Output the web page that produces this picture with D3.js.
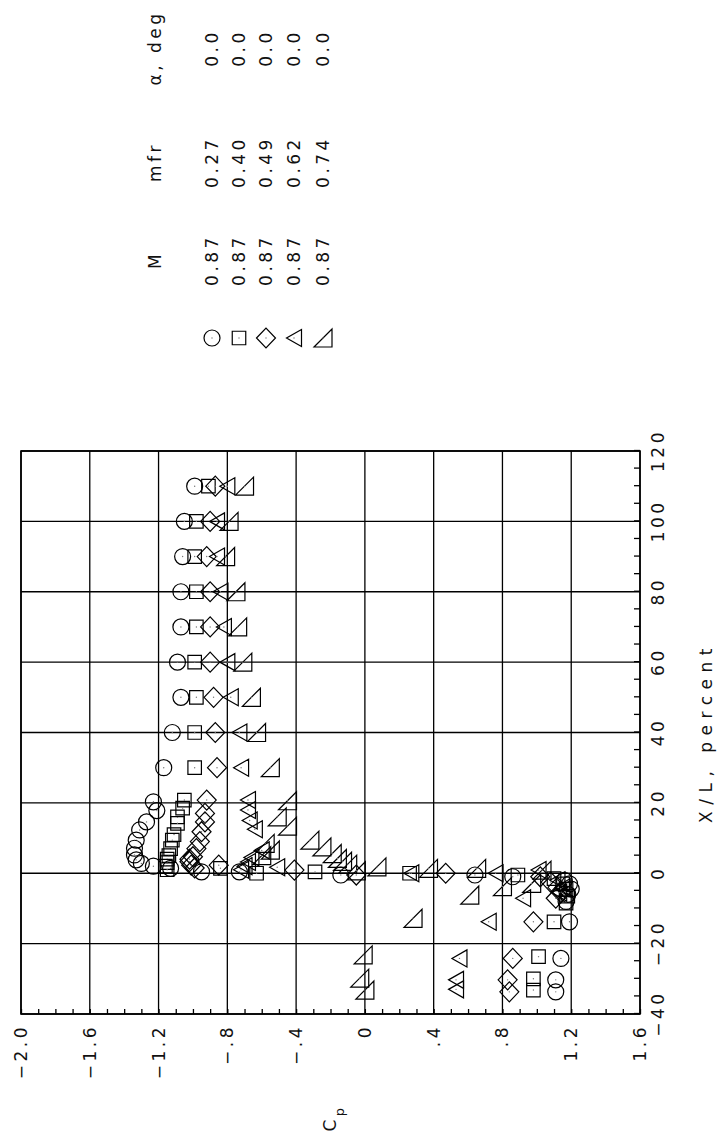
<!DOCTYPE html>
<html>
<head>
<meta charset="utf-8">
<script src="https://cdn.jsdelivr.net/npm/d3@7"></script>
<style>
  html, body { margin: 0; padding: 0; background: #fff; }
  svg { display: block; }
  text { font-family: "DejaVu Sans", "Liberation Sans", sans-serif; font-size: 17px; letter-spacing: 3.5px; fill: #111; }
  text.axis-title { letter-spacing: 6.5px; }
</style>
</head>
<body>
<svg id="chart" width="722" height="1148"></svg>
<script>
// ---- axis ticks and labels ----
const xlTicks = [-40, -20, 0, 20, 40, 60, 80, 100, 120];
const xlTickLabels = ["\u221240", "\u221220", "0", "20", "40", "60", "80", "100", "120"];
const cpTicks = [-2.0, -1.6, -1.2, -0.8, -0.4, 0, 0.4, 0.8, 1.2, 1.6];
const cpTickLabels = ["\u22122.0", "\u22121.6", "\u22121.2", "\u2212.8", "\u2212.4", "0", ".4", ".8", "1.2", "1.6"];

// ---- legend table ----
const legendHeaders = ["M", "mfr", "\u03b1, deg"];
const symbolKinds = ["circle", "square", "diamond", "triangle", "flag"];
const machValues = ["0.87", "0.87", "0.87", "0.87", "0.87"];
const mfrValues = ["0.27", "0.40", "0.49", "0.62", "0.74"];
const alphaValues = ["0.0", "0.0", "0.0", "0.0", "0.0"];

// ---- pressure data: X/L (percent) and Cp for each mass-flow ratio ----
const xlMfr027 = [110, 100, 90, 80, 70, 60, 50, 40, 30,
  20.3, 17.8, 14.6, 12.3, 9.4, 7.1, 5.2, 3.8, 2.8, 2.0, 1.4,
  0.4, 0.4, -0.5, -0.5, -1.0,
  -2.0, -3.0, -4.5, -6.0, -8.0,
  -13.8, -24.2, -30.3, -33.7];
const cpMfr027 = [-0.99, -1.05, -1.06, -1.07, -1.07, -1.09, -1.07, -1.12, -1.17,
  -1.23, -1.21, -1.27, -1.31, -1.33, -1.34, -1.34, -1.33, -1.30, -1.23, -1.13,
  -0.95, -0.73, -0.14, 0.64, 0.86,
  1.16, 1.19, 1.20, 1.18, 1.17,
  1.19, 1.14, 1.11, 1.11];

const xlMfr040 = [110, 100, 90, 80, 70, 60, 50, 40, 30,
  20.8, 18.5, 16.0, 14.2, 11.0, 9.4, 7.0, 5.0, 4.0, 3.0, 2.0, 1.0,
  1.4, 0.0, 0.4, 0.0, -0.5,
  -1.5, -3.0, -4.5, -6.5, -8.5,
  -13.8, -23.7, -30.0, -33.2];
const cpMfr040 = [-0.91, -0.98, -0.99, -0.98, -0.98, -0.99, -0.98, -0.99, -0.99,
  -1.05, -1.06, -1.09, -1.09, -1.11, -1.12, -1.13, -1.14, -1.15, -1.15, -1.16, -1.15,
  -0.84, -0.63, -0.29, 0.26, 0.89,
  1.10, 1.15, 1.17, 1.18, 1.17,
  1.10, 1.01, 0.98, 0.98];

const xlMfr049 = [110, 100, 90, 80, 70, 60, 50, 40, 30,
  20.8, 17.0, 14.6, 11.8, 9.0, 7.0, 4.7, 4.0, 3.3, 2.3, 1.5,
  2.3, 0.9, -0.5, 0.0, -1.0,
  -2.5, -4.0, -5.5, -7.1,
  -13.8, -24.2, -30.3, -33.7];
const cpMfr049 = [-0.87, -0.90, -0.92, -0.90, -0.90, -0.90, -0.88, -0.87, -0.86,
  -0.92, -0.93, -0.93, -0.95, -0.96, -0.98, -1.00, -1.02, -1.02, -1.01, -0.99,
  -0.85, -0.41, -0.05, 0.47, 1.02,
  1.08, 1.12, 1.14, 1.11,
  0.98, 0.86, 0.83, 0.84];

const xlMfr062 = [110, 100, 90, 80, 70, 60, 50, 40, 30,
  20.8, 18.0, 15.0, 12.5, 6.5, 4.5, 3.2, 2.0, 1.0,
  1.7, 0.0, 0.0, 0.9,
  -2.0, -4.0, -5.5, -7.1,
  -13.8, -24.2, -30.3, -33.0];
const cpMfr062 = [-0.80, -0.86, -0.86, -0.84, -0.82, -0.80, -0.78, -0.73, -0.72,
  -0.68, -0.68, -0.67, -0.64, -0.60, -0.66, -0.68, -0.70, -0.72,
  -0.51, 0.27, 0.76, 1.01,
  1.12, 1.15, 1.13, 0.92,
  0.72, 0.55, 0.53, 0.53];

const xlMfr074 = [110, 100, 90, 80, 70, 60, 50, 40, 30,
  20.6, 16.0, 13.4,
  8.5, 6.6, 5.0,
  9.4, 7.5, 5.6, 4.2, 3.4, 2.6, 0.7,
  1.8, 1.4, 1.4, 0.9,
  -2.9, -3.8, -6.2,
  -12.8, -23.2, -29.8, -33.2];
const cpMfr074 = [-0.70, -0.79, -0.81, -0.75, -0.74, -0.71, -0.66, -0.63, -0.55,
  -0.45, -0.51, -0.45,
  -0.58, -0.55, -0.60,
  -0.32, -0.25, -0.19, -0.16, -0.13, -0.10, -0.05,
  0.07, 0.37, 0.65, 1.03,
  0.97, 0.80, 0.61,
  0.28, -0.01, -0.03, 0.00];

const seriesXL = [xlMfr027, xlMfr040, xlMfr049, xlMfr062, xlMfr074];
const seriesCp = [cpMfr027, cpMfr040, cpMfr049, cpMfr062, cpMfr074];

// ---- layout: the plot is drawn upright and turned a quarter turn ----
const svg = d3.select("#chart");
const plotW = 563;   // length of the X/L axis
const plotH = 619;   // length of the Cp axis
const g = svg.append("g").attr("transform", "translate(21,1014) rotate(-90)");

const x = d3.scaleLinear().domain([-40, 120]).range([0, plotW]);
const y = d3.scaleLinear().domain([-2.0, 1.6]).range([0, plotH]);

// grid
const grid = g.append("g").attr("stroke", "#000").attr("stroke-width", 1.3);
grid.selectAll("line.gx").data(xlTicks).join("line")
  .attr("class", "gx")
  .attr("x1", d => x(d)).attr("x2", d => x(d))
  .attr("y1", 0).attr("y2", plotH);
grid.selectAll("line.gy").data(cpTicks).join("line")
  .attr("class", "gy")
  .attr("x1", 0).attr("x2", plotW)
  .attr("y1", d => y(d)).attr("y2", d => y(d));

// frame
g.append("rect")
  .attr("x", 0).attr("y", 0).attr("width", plotW).attr("height", plotH)
  .attr("fill", "none").attr("stroke", "#000").attr("stroke-width", 1.6);

// minor ticks pointing into the plot
const minorXL = d3.range(-40, 121, 5);
const minorCp = d3.range(-20, 17).map(d => d / 10);
const tickStyle = sel => {
  sel.select(".domain").remove();
  sel.selectAll(".tick line").attr("stroke", "#000").attr("stroke-width", 1.3);
  sel.selectAll(".tick text").remove();
};
g.append("g").attr("transform", `translate(0,${plotH})`)
  .call(d3.axisBottom(x).tickValues(minorXL).tickSize(-6).tickFormat(""))
  .call(tickStyle);
g.append("g")
  .call(d3.axisLeft(y).tickValues(minorCp).tickSize(-5).tickFormat(""))
  .call(tickStyle);

// tick labels
const labelStyle = sel => {
  sel.attr("font-size", null).attr("font-family", null);
  sel.select(".domain").remove();
  sel.selectAll(".tick line").remove();
};
g.append("g").attr("transform", `translate(0,${plotH})`)
  .call(d3.axisBottom(x).tickValues(xlTicks).tickFormat((d, i) => xlTickLabels[i]).tickSize(0).tickPadding(12))
  .call(labelStyle);
g.append("g")
  .call(d3.axisLeft(y).tickValues(cpTicks).tickFormat((d, i) => cpTickLabels[i]).tickSize(0).tickPadding(10))
  .call(labelStyle);

// axis titles
g.append("text")
  .attr("class", "axis-title")
  .attr("x", x(40)).attr("y", plotH + 66).attr("dy", "0.35em")
  .attr("text-anchor", "middle")
  .text("X/L, percent");
const cpTitle = g.append("text")
  .attr("x", -104).attr("y", y(-0.2)).attr("dy", "0.35em")
  .attr("text-anchor", "middle");
cpTitle.append("tspan").text("C");
cpTitle.append("tspan").attr("baseline-shift", "sub").attr("font-size", "13px").text("p");

// marker shapes
function symbolPath(kind) {
  const p = d3.path();
  if (kind === "circle") {
    p.arc(0, 0, 8, 0, 2 * Math.PI);
  } else if (kind === "square") {
    p.rect(-6.75, -6.75, 13.5, 13.5);
  } else if (kind === "diamond") {
    p.moveTo(0, -9.5); p.lineTo(10, 0); p.lineTo(0, 9.5); p.lineTo(-10, 0); p.closePath();
  } else if (kind === "triangle") {
    p.moveTo(-8.5, 7.5); p.lineTo(8.5, 7.5); p.lineTo(0, -7.5); p.closePath();
  } else {
    p.moveTo(-9, 9); p.lineTo(9, 9); p.lineTo(-9, -9); p.closePath();
  }
  return p.toString();
}

function drawMarker(sel, kind) {
  sel.append("path").attr("d", symbolPath(kind))
    .attr("fill", "none").attr("stroke", "#000").attr("stroke-width", 1.2);
  sel.append("circle").attr("r", 0.7).attr("fill", "#777");
}

// data markers
symbolKinds.forEach((kind, s) => {
  const pts = d3.zip(seriesXL[s], seriesCp[s]);
  g.append("g").selectAll("g").data(pts).join("g")
    .attr("transform", d => `translate(${x(d[0])},${y(d[1])})`)
    .each(function () { drawMarker(d3.select(this), kind); });
});

// legend table, to the right of the plot
const legendRowHeader = 134;
const legendRows = [191, 218, 245, 273, 302];
const colSymbol = 676, colMach = 754, colMfr = 852, colAlpha = 966;
const legend = g.append("g");
[colMach, colMfr, colAlpha].forEach((cx, i) => {
  legend.append("text")
    .attr("x", cx).attr("y", legendRowHeader).attr("dy", "0.35em")
    .attr("text-anchor", "middle").text(legendHeaders[i]);
});
symbolKinds.forEach((kind, i) => {
  const row = legend.append("g");
  row.append("g").attr("transform", `translate(${colSymbol},${legendRows[i]})`)
    .call(sel => drawMarker(sel, kind));
  [[colMach, machValues[i]], [colMfr, mfrValues[i]], [colAlpha, alphaValues[i]]].forEach(([cx, t]) => {
    row.append("text")
      .attr("x", cx).attr("y", legendRows[i]).attr("dy", "0.35em")
      .attr("text-anchor", "middle").text(t);
  });
});
</script>
</body>
</html>
